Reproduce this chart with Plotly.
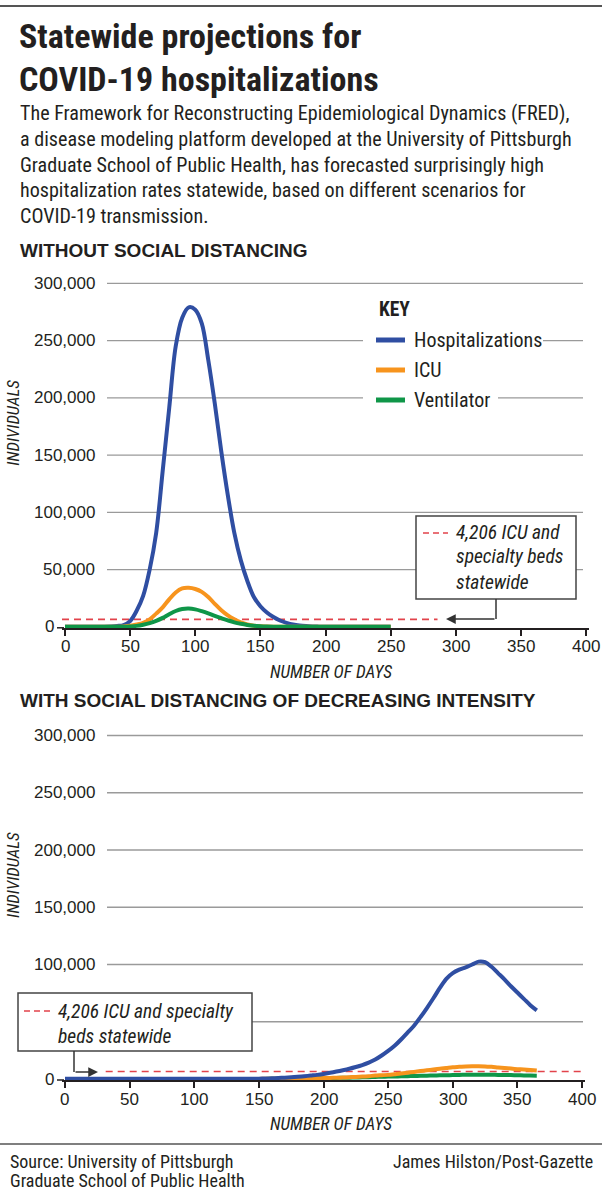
import plotly.graph_objects as go

W, H = 602, 1200
COND = "Roboto Condensed, Archivo Narrow, Liberation Sans Narrow, sans-serif"
SANS = "Liberation Sans, Arial, sans-serif"
INK = "#231f20"

# ---- data ----
series_names = ["Hospitalizations", "ICU", "Ventilator"]
series_colors = ["#2f4ea2", "#f7941d", "#0f9648"]
beds_line_level = 6500  # where the dashed capacity line sits in the picture

y_ticks = [0, 50000, 100000, 150000, 200000, 250000, 300000]
x_ticks = [0, 50, 100, 150, 200, 250, 300, 350, 400]

# without social distancing (days 0-250, every 5 days)
days_a = list(range(0, 255, 5))
hosp_a = [0, 0, 0, 0, 0, 0, 100, 300, 700, 1500,
          5000, 14000, 27000, 50000, 82000, 136000, 191000, 245000, 270000, 279000,
          277000, 265000, 233000, 195000, 153000, 115000, 82000, 58000, 40000, 26000,
          18000, 12500, 8500, 5500, 3500, 2000, 1100, 600, 300, 150,
          50, 0, 0, 0, 0, 0, 0, 0, 0, 0, 0]
icu_a = [0, 0, 0, 0, 0, 0, 0, 0, 0, 300,
         900, 2000, 3500, 6500, 11500, 17000, 24000, 30000, 33500, 34000,
         33000, 30500, 26000, 20000, 14500, 10000, 6500, 3800, 2000, 1000,
         500, 250, 100, 0, 0, 0, 0, 0, 0, 0,
         0, 0, 0, 0, 0, 0, 0, 0, 0, 0, 0]
vent_a = [0, 0, 0, 0, 0, 0, 0, 0, 0, 0,
          300, 800, 1800, 3200, 5200, 7800, 11000, 13800, 15500, 15900,
          15200, 13700, 11800, 9500, 7500, 5600, 3900, 2600, 1600, 900,
          500, 250, 100, 0, 0, 0, 0, 0, 0, 0,
          0, 0, 0, 0, 0, 0, 0, 0, 0, 0, 0]

# with social distancing of decreasing intensity (days 0-365, every 5 days)
days_b = list(range(0, 370, 5))
hosp_b = [300] * 31 + [
    400, 600, 900, 1200, 1500, 1900, 2400, 3000, 3600, 4400,
    5400, 6500, 7700, 9000, 10500, 12200, 14300, 17000, 20500, 24500,
    29000, 34500, 40500, 46500, 54000, 62000, 70500, 79500, 87500, 92500,
    95500, 97500, 100000, 102500, 102000, 98000, 92500, 87000, 81000, 75500,
    70000, 64500, 60000]
icu_b = [100] * 31 + [
    150, 200, 250, 300, 350, 400, 500, 600, 700, 800,
    950, 1100, 1300, 1500, 1800, 2100, 2500, 3000, 3300, 3600,
    4200, 4800, 5500, 6200, 6900, 7600, 8300, 9000, 9600, 10200,
    10600, 11000, 11200, 11200, 11000, 10600, 10100, 9600, 9100, 8600,
    8200, 7800, 7400]
vent_b = [50] * 31 + [
    100, 150, 200, 250, 300, 350, 450, 550, 650, 750,
    850, 950, 1100, 1200, 1300, 1450, 1600, 1800, 1950, 2100,
    2200, 2300, 2450, 2600, 2750, 2900, 3050, 3200, 3300, 3400,
    3550, 3700, 3750, 3800, 3750, 3700, 3600, 3500, 3400, 3300,
    3150, 3000, 2900]

beds_days_a = [-2.3, 286]
beds_days_b = [31.5, 399]


# ---- pixel helpers (margins are zero, so paper == page) ----
def px(x):
    return x / W


def py(y):
    return 1 - y / H


Y_MIN, Y_MAX = -1000, 302000
PX_PER_UNIT = 343.5 / 300000


def y_domain(zero_px):
    bottom = zero_px + (0 - Y_MIN) * PX_PER_UNIT
    top = zero_px - Y_MAX * PX_PER_UNIT
    return [py(bottom), py(top)]


fig = go.Figure()

panels = [
    ("x", "y", days_a, [hosp_a, icu_a, vent_a], [0, 1, 2], beds_days_a),
    ("x2", "y2", days_b, [hosp_b, icu_b, vent_b], [2, 1, 0], beds_days_b),
]
for xa, ya, days, values, order, beds_days in panels:
    fig.add_trace(go.Scatter(
        x=beds_days, y=[beds_line_level] * 2, xaxis=xa, yaxis=ya, mode="lines",
        line=dict(color="#e2434b", width=1.6, dash="7px,5px"), hoverinfo="skip"))
    for i in order:
        fig.add_trace(go.Scatter(
            x=days, y=values[i], name=series_names[i], xaxis=xa, yaxis=ya,
            mode="lines", line=dict(color=series_colors[i], width=4, shape="spline"),
        ))

axis_common = dict(
    range=[-2.3, 402.3], tickvals=x_ticks,
    showgrid=False, zeroline=False, showline=True, linecolor=INK, linewidth=1.5,
    ticks="outside", ticklen=6, tickwidth=1.5, tickcolor=INK, showticklabels=False,
)
yaxis_common = dict(range=[Y_MIN, Y_MAX], showgrid=False, zeroline=False,
                    showticklabels=False, showline=False)

ZERO_A, ZERO_B = 626.8, 1079

fig.update_layout(
    width=W, height=H, margin=dict(l=0, r=0, t=0, b=0),
    paper_bgcolor="white", plot_bgcolor="white", showlegend=False,
    xaxis=dict(axis_common, anchor="y", domain=[px(62), px(589)]),
    xaxis2=dict(axis_common, anchor="y2", domain=[px(62), px(585)]),
    yaxis=dict(yaxis_common, domain=y_domain(ZERO_A), anchor="x"),
    yaxis2=dict(yaxis_common, domain=y_domain(ZERO_B), anchor="x2"),
)

shapes = []
annotations = []


def text(x, y, s, size, family=COND, anchor="left", color=INK, **kw):
    annotations.append(dict(
        x=px(x), y=py(y), xref="paper", yref="paper", text=s, showarrow=False,
        xanchor=anchor, yanchor="middle", font=dict(family=family, size=size, color=color), **kw))


def hline(x0, x1, y, color, width, dash=None, layer="above"):
    shapes.append(dict(type="line", xref="paper", yref="paper", x0=px(x0), x1=px(x1),
                       y0=py(y), y1=py(y), line=dict(color=color, width=width, dash=dash),
                       layer=layer))


def vline(x, y0, y1, color, width):
    shapes.append(dict(type="line", xref="paper", yref="paper", x0=px(x), x1=px(x),
                       y0=py(y0), y1=py(y1), line=dict(color=color, width=width)))


def box(x0, y0, x1, y1):
    shapes.append(dict(type="rect", xref="paper", yref="paper", x0=px(x0), x1=px(x1),
                       y0=py(y1), y1=py(y0), fillcolor="white",
                       line=dict(color="#444", width=1.5), layer="above"))


def blank(x0, x1, y):
    shapes.append(dict(type="rect", xref="paper", yref="paper", x0=px(x0), x1=px(x1),
                       y0=py(y + 4), y1=py(y - 4), fillcolor="white",
                       line=dict(width=0), layer="above"))


# frame lines
hline(0, 602, 6, "#555", 2)
hline(0, 602, 1144, "#555", 1.5)

# headline + intro
text(17, 36, "<b>Statewide projections for</b>", 34)
text(17, 79, "<b>COVID-19 hospitalizations</b>", 34)
intro = [
    "The Framework for Reconstructing Epidemiological Dynamics (FRED),",
    "a disease modeling platform developed at the University of Pittsburgh",
    "Graduate School of Public Health, has forecasted surprisingly high",
    "hospitalization rates statewide, based on different scenarios for",
    "COVID-19 transmission.",
]
for k, line in enumerate(intro):
    text(18, 113 + 25.8 * k, line, 20.1)

text(18, 250, "<b>WITHOUT SOCIAL DISTANCING</b>", 19, family=SANS)
text(18, 701, "<b>WITH SOCIAL DISTANCING OF DECREASING INTENSITY</b>", 19, family=SANS)

# gridlines + tick labels for both panels
for xa, ya, zero_px in (("x", "y", ZERO_A), ("x2", "y2", ZERO_B)):
    for v in y_ticks[1:]:
        shapes.append(dict(type="line", xref="paper", yref=ya, x0=px(107), x1=px(583),
                           y0=v, y1=v, line=dict(color="#9a9a9a", width=1.3), layer="below"))
        if ya == "y2" and v == 50000:
            continue  # hidden behind the call-out box in the reference
        annotations.append(dict(x=px(97), y=v, xref="paper", yref=ya, text=f"{v:,}",
                                showarrow=False, xanchor="right", yanchor="middle",
                                font=dict(family=SANS, size=17, color=INK)))
    annotations.append(dict(x=px(56), y=0, xref="paper", yref=ya, text="0",
                            showarrow=False, xanchor="right", yanchor="middle",
                            font=dict(family=SANS, size=17, color=INK)))
    for d in x_ticks:
        annotations.append(dict(x=d, y=py(zero_px + 20), xref=xa, yref="paper", text=str(d),
                                showarrow=False, xanchor="center", yanchor="middle",
                                font=dict(family=SANS, size=17, color=INK)))
    hline(57, 64, zero_px + 1, INK, 1.5)
    text(331, zero_px + 45, "<i>NUMBER OF DAYS</i>", 17.5, anchor="center")
    text(13, zero_px - 204, "<i>INDIVIDUALS</i>", 17, anchor="center", textangle=-90)

# key (top panel)
text(377, 309, "<b>KEY</b>", 19.5)
blank(363, 543, 340)
blank(363, 498, 398)
for k, name in enumerate(series_names):
    yk = 340 + 30 * k
    hline(376, 405, yk, series_colors[k], 5)
    text(412, yk, name, 20)

# capacity call-out, top panel
box(416, 516, 576, 599)
hline(423, 448, 533, "#e2434b", 1.6, dash="6px,4px")
text(454, 533, "<i>4,206 ICU and</i>", 19.5)
text(454, 557, "<i>specialty beds</i>", 19.5)
text(454, 582, "<i>statewide</i>", 19.5)
vline(496, 599, 619, "#333", 1.5)
annotations.append(dict(x=px(446), y=py(619), xref="paper", yref="paper", ax=50, ay=0,
                        text="", showarrow=True, arrowhead=2, arrowsize=1.3,
                        arrowwidth=1.5, arrowcolor="#333"))

# capacity call-out, bottom panel
box(18, 993, 252, 1051)
hline(24, 50, 1011, "#e2434b", 1.6, dash="6px,4px")
text(56, 1011, "<i>4,206 ICU and specialty</i>", 19.5)
text(56, 1036, "<i>beds statewide</i>", 19.5)
vline(74, 1051, 1072, "#333", 1.5)
annotations.append(dict(x=px(98), y=py(1072), xref="paper", yref="paper", ax=-24, ay=0,
                        text="", showarrow=True, arrowhead=2, arrowsize=1.3,
                        arrowwidth=1.5, arrowcolor="#333"))

# footer
text(8, 1161, "Source: University of Pittsburgh", 18)
text(8, 1180, "Graduate School of Public Health", 18)
text(595, 1161, "James Hilston/Post-Gazette", 18, anchor="right")

fig.update_layout(shapes=shapes, annotations=annotations)

fig.write_html("out.html", config={"displayModeBar": False},
               post_script="document.body.style.margin='0';")
